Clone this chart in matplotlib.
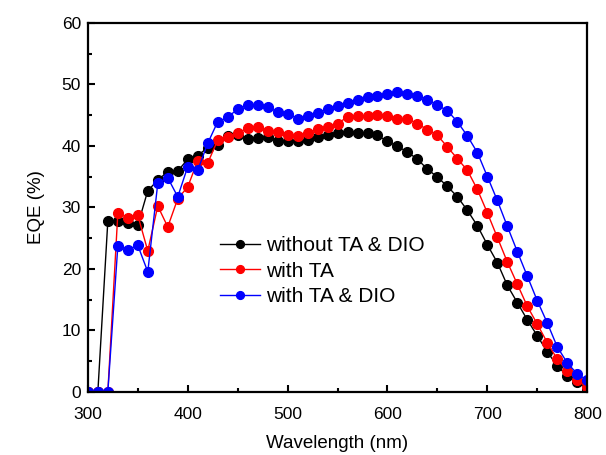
import numpy as np
import matplotlib
matplotlib.use("Agg")
import matplotlib.pyplot as plt
from matplotlib.ticker import MultipleLocator

plt.rcParams['font.family'] = ['Liberation Sans', 'DejaVu Sans']

# wavelength grid (nm)
wavelength = np.arange(300, 801, 10)

# EQE (%)
eqe_none = [0, 0, 27.8, 27.8, 27.5, 27.1, 32.7, 34.4, 35.8, 35.9,
            37.8, 38.4, 39.7, 40.2, 41.6, 41.8, 41.1, 41.2, 41.5, 40.7,
            40.7, 40.8, 41.0, 41.4, 41.7, 42.1, 42.3, 42.1, 42.0, 41.7,
            40.7, 39.9, 39.0, 37.8, 36.2, 34.9, 33.4, 31.7, 29.5, 27.0,
            23.9, 21.0, 17.3, 14.5, 11.7, 9.1, 6.5, 4.2, 2.6, 1.6, 0.5]
eqe_ta = [0, 0, 0, 29.0, 28.3, 28.7, 22.9, 30.2, 26.8, 31.4,
          33.3, 37.6, 37.2, 40.9, 41.4, 42.0, 42.9, 43.1, 42.4, 42.3,
          41.7, 41.6, 42.0, 42.7, 43.0, 43.6, 44.7, 44.8, 44.8, 45.0,
          44.8, 44.4, 44.4, 43.6, 42.6, 41.7, 39.8, 37.9, 36.0, 32.9,
          29.1, 25.1, 21.1, 17.5, 13.9, 11.0, 8.0, 5.3, 3.4, 1.9, 0.7]
eqe_ta_dio = [0, 0, 0, 23.7, 23.1, 23.8, 19.5, 33.9, 34.8, 31.7,
              36.6, 36.0, 40.4, 43.9, 44.6, 46.0, 46.6, 46.7, 46.3, 45.5,
              45.2, 44.4, 44.8, 45.4, 45.9, 46.5, 47.0, 47.5, 47.9, 48.1,
              48.4, 48.7, 48.4, 48.1, 47.5, 46.6, 45.7, 43.9, 41.6, 38.9,
              35.0, 31.1, 26.9, 22.8, 18.8, 14.8, 11.2, 7.3, 4.7, 2.9, 1.9]

labels = ['without TA & DIO', 'with TA', 'with TA & DIO']
colors = ['black', 'red', 'blue']

fig = plt.figure(figsize=(6.06, 4.55), dpi=100)
ax = fig.add_axes([0.145, 0.139, 0.824, 0.811])

for y, lab, c in zip([eqe_none, eqe_ta, eqe_ta_dio], labels, colors):
    ax.plot(wavelength, y, '-o', color=c, lw=1, ms=7, label=lab)

ax.set_xlim(300, 800)
ax.set_ylim(0, 60)
ax.xaxis.set_major_locator(MultipleLocator(100))
ax.xaxis.set_minor_locator(MultipleLocator(50))
ax.yaxis.set_major_locator(MultipleLocator(10))
ax.yaxis.set_minor_locator(MultipleLocator(5))
ax.tick_params(which='both', direction='in', top=False, right=False,
               labelsize=12.5, width=1.5)
ax.tick_params(which='major', length=5)
ax.tick_params(which='minor', length=3)
ax.tick_params(axis='x', which='major', pad=11)
ax.tick_params(axis='y', which='major', pad=5)
for s in ax.spines.values():
    s.set_linewidth(1.6)

ax.set_xlabel('Wavelength (nm)', fontsize=13.5, labelpad=9)
ax.set_ylabel('EQE (%)', fontsize=13.5, labelpad=12)

ax.legend(loc='center', bbox_to_anchor=(0.47, 0.327), frameon=False,
          fontsize=15, handlelength=1.9, handletextpad=0.3,
          labelspacing=0.3, markerscale=0.8)

fig.savefig('out.png', dpi=100)
